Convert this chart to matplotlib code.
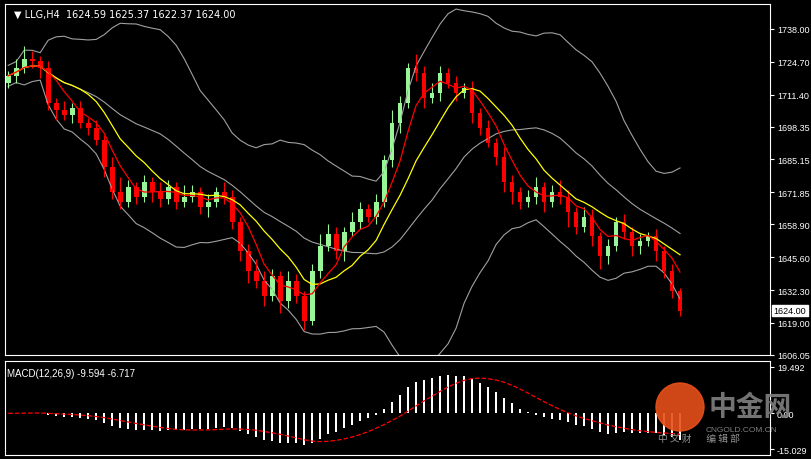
import numpy as np
import pandas as pd
import matplotlib
matplotlib.use("Agg")
import matplotlib.pyplot as plt
from matplotlib.patches import Ellipse

plt.rcParams['font.family'] = ['Liberation Sans', 'Noto Sans CJK SC']

closes = [1719,1722,1726,1725,1722,1708,1705,1703,1706,1700,1698,1693,1682,1672,1668,1674,1670,1676,1672,1669,
          1674,1668,1670,1672,1666,1668,1672,1670,1660,1648,1640,1636,1630,1638,1628,1636,1630,1620,1640,1650,
          1655,1648,1656,1660,1665,1662,1668,1685,1700,1708,1722,1720,1710,1712,1720,1716,1712,1714,1704,1698,
          1692,1686,1676,1672,1668,1670,1674,1668,1672,1670,1664,1658,1662,1654,1646,1650,1660,1656,1650,1652,
          1654,1648,1640,1632,1624]
first_open = 1716
wick_up = [2,4,5,3,2,3,2,4,2,3,2,3,2,4,6,3,2,3,2,4,3,2,5,3,2,3,2,4,3,2,3,5,4,3,2,4,3,2,3,5,
           4,3,2,4,3,2,3,2,5,3,2,6,3,4,3,2,3,2,3,2,3,2,4,3,2,3,4,2,3,5,3,2,4,3,2,3,2,3,2,3,2,3,2,3,1]
wick_dn = [2,3,2,3,4,3,4,2,3,2,3,2,4,3,3,2,3,2,4,3,2,3,2,2,3,4,2,3,3,4,5,3,4,2,5,3,3,4,2,3,
           2,3,4,2,3,2,3,2,3,4,2,3,4,2,3,2,3,2,4,3,2,3,4,5,3,2,3,4,2,3,6,3,2,4,5,3,2,3,4,3,2,4,3,3,2]
price_ticks = [1738.00,1724.70,1711.40,1698.35,1685.15,1671.85,1658.90,1645.60,1632.30,1619.00,1606.05]
macd_ticks = [19.492, 0.00, -15.029]
title = "LLG,H4  1624.59 1625.37 1622.37 1624.00"

c = pd.Series(closes, dtype=float)
o = pd.Series([first_open] + closes[:-1], dtype=float)
hi = np.maximum(o, c) + np.array(wick_up)
lo = np.minimum(o, c) - np.array(wick_dn)
x = np.arange(len(c))
mid = c.rolling(20, min_periods=1).mean()
sd = c.rolling(20, min_periods=2).std().bfill()
up, dn = mid + 2*sd, mid - 2*sd
ma_r = c.rolling(5, min_periods=1).mean()
ma_y = c.rolling(10, min_periods=1).mean()
macd = c.ewm(span=12).mean() - c.ewm(span=26).mean()
sig = macd.rolling(9, min_periods=1).mean()

W, H = 812, 460
fig = plt.figure(figsize=(W/100, H/100), dpi=100, facecolor='black')
ax = fig.add_axes([5/W, 1-356/H, 765/W, 351/H], facecolor='black')
ax2 = fig.add_axes([5/W, 1-456/H, 765/W, 94/H], facecolor='black')
for a in (ax, ax2):
    for s in a.spines.values():
        s.set_color('white')
    a.set_xlim(-0.4, 95.25)
    a.set_xticks([])
    a.yaxis.tick_right()
    a.tick_params(axis='y', colors='white', labelsize=6.5, length=3, pad=2)

ax.plot(x, up, color='#a0a0a0', lw=0.8)
ax.plot(x, dn, color='#a0a0a0', lw=0.8)
ax.plot(x, mid, color='#a0a0a0', lw=0.8)
for i in x:
    col = '#98f598' if c[i] >= o[i] else '#ff0000'
    ax.vlines(i, lo[i], hi[i], color=col, lw=0.8)
    ax.bar(i, abs(c[i]-o[i]) or 0.3, bottom=min(c[i], o[i]), width=0.6, color=col)
ax.plot(x, ma_y, color='yellow', lw=0.9)
ax.plot(x, ma_r, color='red', lw=0.9)
ax.set_ylim(1606.9, 1748.05)
ax.set_yticks(price_ticks)
ax.set_yticklabels([f"{v:.2f}" for v in price_ticks])
ax.text(0.012, 0.985, "▼ " + title, transform=ax.transAxes, color='white', fontsize=7, va='top',
        family=['DejaVu Sans'])
ax.text(95.7, c.iloc[-1], f"{c.iloc[-1]:.2f}", color='black', fontsize=6.5, va='center',
        bbox=dict(facecolor='white', edgecolor='white', pad=1), clip_on=False)

ax2.bar(x, macd, width=0.25, color='white')
ax2.plot(x, sig, color='red', ls='--', lw=0.9)
ax2.set_ylim(-17.5, 22)
ax2.set_yticks(macd_ticks)
ax2.set_yticklabels(["19.492", "0.00", "-15.029"])
ax2.text(0.003, 0.93, "MACD(12,26,9) -9.594 -6.717", transform=ax2.transAxes, color='white', fontsize=7, va='top')

# watermark
fig.add_artist(Ellipse((680/W, 1-408/H), 48/W, 48/H, transform=fig.transFigure, color='#e8501a', alpha=0.9))
fig.text(709/W, 1-408/H, "中金网", color='#808080', fontsize=20, va='center', family=['Noto Sans CJK SC'], weight='bold', alpha=0.9)
fig.text(706/W, 1-432/H, "CNGOLD.COM.CN", color='#808080', fontsize=6)
fig.text(658/W, 1-442/H, "中 文 财       编 辑 部", color='#909090', fontsize=7, family=['Noto Sans CJK SC'])

fig.savefig("out.png", dpi=100, facecolor='black')
